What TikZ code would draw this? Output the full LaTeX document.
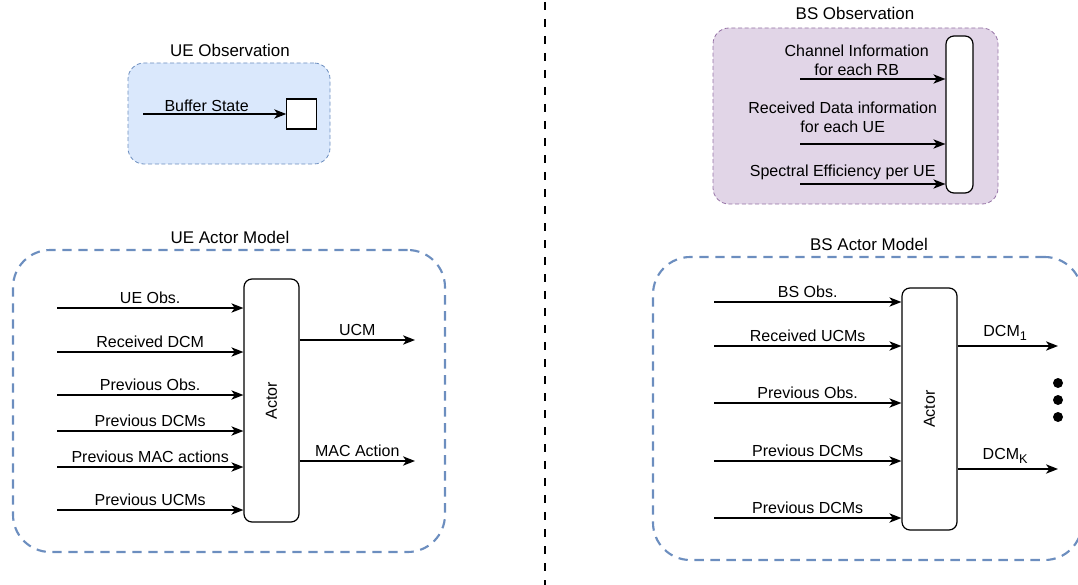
\documentclass[tikz,border=0pt]{standalone}
\usepackage{fontspec}
\setmainfont{Liberation Sans}
\usetikzlibrary{arrows.meta,positioning}

\definecolor{uefill}{HTML}{DAE8FC}
\definecolor{uedraw}{HTML}{6C8EBF}
\definecolor{bsfill}{HTML}{E1D5E7}
\definecolor{bsdraw}{HTML}{9673A6}

\newcommand{\dcmsub}[1]{DCM\raisebox{-2.5pt}{\fontsize{9.5}{10}\selectfont #1}}

\tikzset{
  lbl/.style={font=\fontsize{12}{14}\selectfont, inner sep=0pt, align=center},
  ttl/.style={font=\fontsize{12.7}{15}\selectfont, inner sep=0pt},
  sig/.style={-{Stealth[length=9pt,width=7pt,inset=2.5pt]}, line width=1pt},
  obsbox/.style={rounded corners=12pt, line width=0.6pt, dash pattern=on 3pt off 2pt},
  modelbox/.style={draw=uedraw, line width=1.6pt, dash pattern=on 7pt off 5pt, rounded corners=28pt},
  actorbar/.style={draw, fill=white, rounded corners=6pt, line width=0.9pt},
}

\begin{document}
\begin{tikzpicture}[x=0.75pt,y=-0.75pt]
  \useasboundingbox (0,0) rectangle (1078,585);

  % divider
  \coordinate (divtop) at (545,2);
  \coordinate (divbot) at (545,585);
  \draw[line width=2.2pt, dash pattern=on 6pt off 6.75pt] (divtop) -- (divbot);

  % UE observation
  \node[obsbox, draw=uedraw, fill=uefill, minimum width=151.5pt, minimum height=75.75pt] (ueobs) at (229,113.5) {};
  \node[ttl] (ueobst) at (230,50) {UE Observation};
  \node[draw, fill=white, line width=0.9pt, minimum width=22pt, minimum height=22.5pt, inner sep=0pt] (buf) at (301.5,114) {};
  \coordinate (bufin) at (143,114);
  \draw[sig] (bufin) -- (buf.west) node[lbl, midway, above=1.5pt, xshift=-6pt] {Buffer State};

  % BS observation
  \node[obsbox, draw=bsdraw, fill=bsfill, minimum width=213.75pt, minimum height=132pt] (bsobs) at (855.5,116) {};
  \node[ttl] (bsobst) at (855,13) {BS Observation};
  \node[actorbar, minimum width=20.25pt, minimum height=117.75pt, inner sep=0pt] (bsbar) at (959.5,114.5) {};
  \coordinate (obsin1) at (800,79);
  \coordinate (obsin2) at (800,144);
  \coordinate (obsin3) at (800,184);
  \draw[sig] (obsin1) -- (obsin1 -| bsbar.west) node[lbl, midway, above=2pt, xshift=-12pt] {Channel Information\\for each RB};
  \draw[sig] (obsin2) -- (obsin2 -| bsbar.west) node[lbl, midway, above=8pt, xshift=-22.5pt] {Received Data information\\for each UE};
  \draw[sig] (obsin3) -- (obsin3 -| bsbar.west) node[lbl, midway, above=2.5pt, xshift=-22.5pt] {Spectral Efficiency per UE};

  % UE actor model
  \node[modelbox, minimum width=324pt, minimum height=226.5pt] (uemodel) at (229,401) {};
  \node[ttl] (uemodelt) at (230,237) {UE Actor Model};
  \node[actorbar, minimum width=41.25pt, minimum height=182.25pt] (ueact) at (271.5,400.5) {};
  \node[lbl, rotate=90] (ueactt) at (ueact) {Actor};
  \foreach \i/\y/\txt in {1/308/UE Obs., 2/352/Received DCM, 3/395/Previous Obs., 4/431/Previous DCMs, 5/467/Previous MAC actions, 6/510/Previous UCMs}{
    \coordinate (uein\i) at (57,\y);
    \draw[sig] (uein\i) -- (uein\i -| ueact.west) node[lbl, midway, above=3pt] {\txt};
  }
  \coordinate (ueout1) at (415,340);
  \coordinate (ueout2) at (415,461);
  \draw[sig] (ueout1 -| ueact.east) -- (ueout1) node[lbl, midway, above=3pt] {UCM};
  \draw[sig] (ueout2 -| ueact.east) -- (ueout2) node[lbl, midway, above=3pt] {MAC Action};

  % BS actor model
  \node[modelbox, minimum width=321.75pt, minimum height=227.25pt] (bsmodel) at (867.5,408.5) {};
  \node[ttl] (bsmodelt) at (869,244) {BS Actor Model};
  \node[actorbar, minimum width=41.25pt, minimum height=181.5pt] (bsact) at (929.5,409) {};
  \node[lbl, rotate=90] (bsactt) at (bsact) {Actor};
  \foreach \i/\y/\txt in {1/302/BS Obs., 2/346/Received UCMs, 3/403/Previous Obs., 4/461/Previous DCMs, 5/518/Previous DCMs}{
    \coordinate (bsin\i) at (714,\y);
    \draw[sig] (bsin\i) -- (bsin\i -| bsact.west) node[lbl, midway, above=3pt] {\txt};
  }
  \coordinate (bsout1) at (1058,346);
  \coordinate (bsout2) at (1058,469);
  \draw[sig] (bsout1 -| bsact.east) -- (bsout1) node[lbl, midway, above=4pt, xshift=-2pt] {\dcmsub{1}};
  \draw[sig] (bsout2 -| bsact.east) -- (bsout2) node[lbl, midway, above=4pt, xshift=-2pt] {\dcmsub{K}};
  \foreach \i/\y in {1/383,2/400,3/417}
    \node[circle, fill, inner sep=0pt, minimum size=7.5pt] (dot\i) at (1058,\y) {};
\end{tikzpicture}
\end{document}
